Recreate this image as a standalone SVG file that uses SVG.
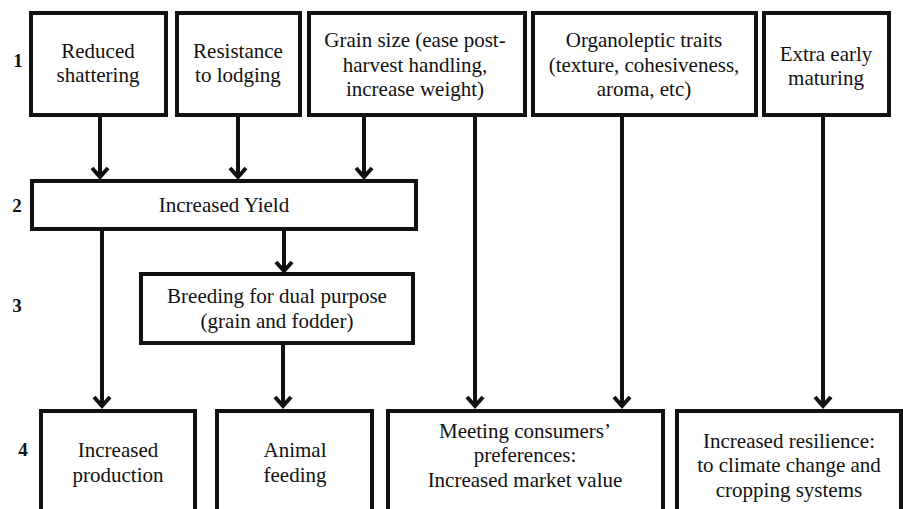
<svg xmlns="http://www.w3.org/2000/svg" width="903" height="509" viewBox="0 0 903 509">
<style>
.box{fill:#fff;stroke:#111;stroke-width:4}
.t{font-family:'Liberation Serif','Times New Roman',Times,'DejaVu Serif',serif;font-size:21px;fill:#111;text-anchor:middle}
.n{font-family:'Liberation Serif','Times New Roman',Times,'DejaVu Serif',serif;font-size:19px;font-weight:bold;fill:#111;text-anchor:middle}
.ln{fill:none;stroke:#111;stroke-width:4}
.ah{fill:none;stroke:#111;stroke-width:4;stroke-linejoin:miter}
</style>
<rect width="903" height="509" fill="#fff"/>
<g id="levels">
<text class="n" x="18" y="67">1</text>
<text class="n" x="17" y="212">2</text>
<text class="n" x="17" y="312">3</text>
<text class="n" x="23" y="456">4</text>
</g>
<g id="connectors">
<path class="ln" d="M100 115V176M238 115V176M364 115V176M475 115V405M622 115V405M823 115V405M102 229V405M284 229V270M283 343V405"/>
<path class="ah" d="M92 168L100 177L108 168M230 168L238 177L246 168M356 168L364 177L372 168M467 397L475 406L483 397M614 397L622 406L630 397M815 397L823 406L831 397M94 397L102 406L110 397M276 262L284 271L292 262M275 397L283 406L291 397"/>
</g>
<g id="n1"><rect class="box" x="31" y="13" width="135" height="102"/><text class="t" x="98" y="58">Reduced</text><text class="t" x="98" y="82">shattering</text></g>
<g id="n2"><rect class="box" x="177" y="13" width="123" height="102"/><text class="t" x="238" y="58">Resistance</text><text class="t" x="238" y="82">to lodging</text></g>
<g id="n3"><rect class="box" x="309" y="13" width="216" height="102"/><text class="t" x="415" y="47">Grain size (ease post-</text><text class="t" x="415" y="72">harvest handling,</text><text class="t" x="415" y="96">increase weight)</text></g>
<g id="n4"><rect class="box" x="533" y="13" width="223" height="102"/><text class="t" x="644" y="47">Organoleptic traits</text><text class="t" x="644" y="72">(texture, cohesiveness,</text><text class="t" x="644" y="96">aroma, etc)</text></g>
<g id="n5"><rect class="box" x="764" y="13" width="125" height="102"/><text class="t" x="826" y="61">Extra early</text><text class="t" x="826" y="85">maturing</text></g>
<g id="n6"><rect class="box" x="32" y="181" width="384" height="48"/><text class="t" x="224" y="212">Increased Yield</text></g>
<g id="n7"><rect class="box" x="141" y="274" width="272" height="69"/><text class="t" x="277" y="303">Breeding for dual purpose</text><text class="t" x="277" y="328">(grain and fodder)</text></g>
<g id="n8"><rect class="box" x="41" y="411" width="154" height="110"/><text class="t" x="118" y="457">Increased</text><text class="t" x="118" y="482">production</text></g>
<g id="n9"><rect class="box" x="217" y="411" width="155" height="110"/><text class="t" x="295" y="457">Animal</text><text class="t" x="295" y="482">feeding</text></g>
<g id="n10"><rect class="box" x="388" y="411" width="275" height="110"/><text class="t" x="525" y="438">Meeting consumers’</text><text class="t" x="525" y="462">preferences:</text><text class="t" x="525" y="487">Increased market value</text></g>
<g id="n11"><rect class="box" x="677" y="411" width="224" height="110"/><text class="t" x="789" y="448">Increased resilience:</text><text class="t" x="789" y="472">to climate change and</text><text class="t" x="789" y="497">cropping systems</text></g>
</svg>
